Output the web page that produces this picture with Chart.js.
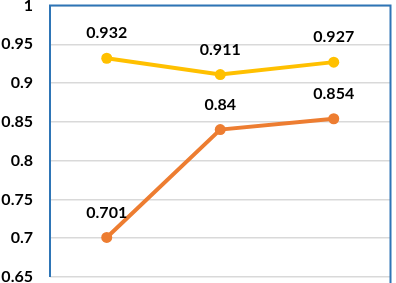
<!DOCTYPE html>
<html>
<head>
<meta charset="utf-8">
<script src="https://cdn.jsdelivr.net/npm/chart.js@4"></script>
<style>
  html, body { margin: 0; padding: 0; background: #fff; }
  #wrap { width: 396px; height: 283px; }
</style>
</head>
<body>
<div id="wrap"><canvas id="chart" width="396" height="283"></canvas></div>
<script>
const categories = ["A", "B", "C"];
const seriesTop = [0.932, 0.911, 0.927];
const seriesBottom = [0.701, 0.84, 0.854];
const yTicks = [0.65, 0.7, 0.75, 0.8, 0.85, 0.9, 0.95, 1];

const labelFont = "bold 16px Lato, 'Liberation Sans', sans-serif";

const pointLabels = {
    id: "pointLabels",
    afterDatasetsDraw(chart) {
        const ctx = chart.ctx;
        ctx.save();
        ctx.font = labelFont;
        ctx.fillStyle = "#000";
        ctx.textAlign = "center";
        ctx.textBaseline = "middle";
        chart.data.datasets.forEach((ds, i) => {
            chart.getDatasetMeta(i).data.forEach((pt, j) => {
                ctx.fillText(String(ds.data[j]), pt.x, pt.y - 25);
            });
        });
        ctx.restore();
    },
};

const plotFrame = {
    id: "plotFrame",
    afterDraw(chart) {
        const a = chart.chartArea;
        const ctx = chart.ctx;
        ctx.save();
        ctx.strokeStyle = "#2E75B6";
        ctx.lineWidth = 2;
        ctx.beginPath();
        ctx.moveTo(a.left, a.bottom);
        ctx.lineTo(a.left, a.top);
        ctx.lineTo(a.right, a.top);
        ctx.lineTo(a.right, a.bottom + 6);
        ctx.stroke();
        ctx.restore();
    },
};

const ctx = document.getElementById("chart").getContext("2d");
const chart = new Chart(ctx, {
    type: "line",
    data: {
        labels: categories,
        datasets: [
            {
                data: seriesTop,
                borderColor: "#FFC000",
                backgroundColor: "#FFC000",
                borderWidth: 4,
                pointRadius: 5.5,
                pointBorderWidth: 0,
            },
            {
                data: seriesBottom,
                borderColor: "#ED7D31",
                backgroundColor: "#ED7D31",
                borderWidth: 4,
                pointRadius: 5.5,
                pointBorderWidth: 0,
            },
        ],
    },
    plugins: [pointLabels, plotFrame],
    options: {
        responsive: false,
        animation: false,
        layout: { padding: { top: 5, right: 1, bottom: 6, left: 0 } },
        plugins: {
            legend: { display: false },
            tooltip: { enabled: false },
        },
        scales: {
            x: {
                display: false,
                offset: true,
            },
            y: {
                min: 0.65,
                max: 1,
                afterBuildTicks(scale) {
                    scale.ticks = yTicks.map((v) => ({ value: v }));
                },
                afterFit(scale) {
                    scale.width = 50;
                    scale.paddingTop = 0;
                    scale.paddingBottom = 0;
                },
                ticks: {
                    color: "#000",
                    font: { family: "Lato, 'Liberation Sans', sans-serif", size: 16, weight: "bold" },
                    padding: 17,
                    callback: (v) => String(Number(v.toFixed(2))),
                },
                grid: {
                    color: "#D9D9D9",
                    lineWidth: 1.5,
                    drawTicks: false,
                },
                border: { display: false },
            },
        },
    },
});
</script>
</body>
</html>
